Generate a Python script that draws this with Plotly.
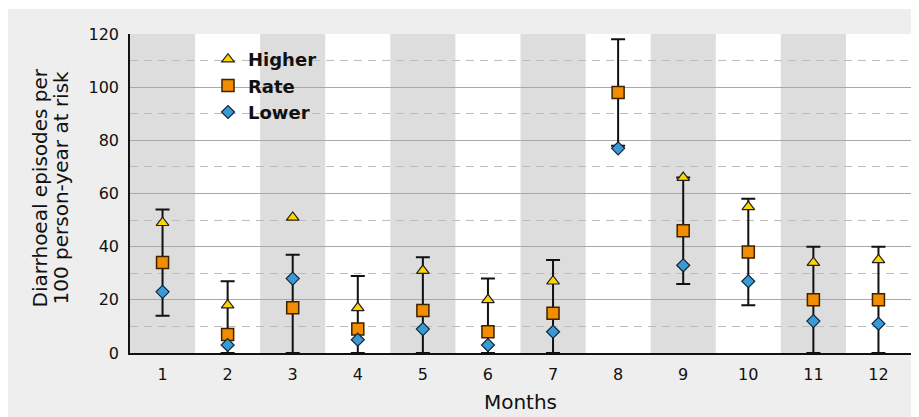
import plotly.graph_objects as go

months = [1, 2, 3, 4, 5, 6, 7, 8, 9, 10, 11, 12]
month_labels = ["1", "2", "3", "4", "5", "6", "7", "8", "9", "10", "11", "12"]
rate = [34, 7, 17, 9, 16, 8, 15, 98, 46, 38, 20, 20]
higher = [49, 18, 51, 17, 31, 20, 27, None, 66, 55, 34, 35]
lower = [23, 3, 28, 5, 9, 3, 8, 77, 33, 27, 12, 11]
ci_upper = [54, 27, 37, 29, 36, 28, 35, 118, 66, 58, 40, 40]
ci_lower = [14, 0, 0, 0, 0, 0, 0, 78, 26, 18, 0, 0]
y_title_lines = ["Diarrhoeal episodes per", "100 person-year at risk"]

err_plus = [u - r for u, r in zip(ci_upper, rate)]
err_minus = [r - l for r, l in zip(rate, ci_lower)]

FONT = "DejaVu Sans, Verdana, sans-serif"

# page pixel geometry (the page body adds an 8px offset)
PL, PR, PT, PB = 130, 911, 34, 353
def px_x(p):
    return (p - PL) / (PR - PL)
def px_y(p):
    return (PB - p) / (PB - PT)

fig = go.Figure()
fig.add_trace(go.Scatter(
    x=months, y=rate, mode="markers", name="Rate", legendrank=2, legendgroup="r",
    marker=dict(symbol="square", size=12, color="#f28c00",
                line=dict(color="#3d2200", width=1.5)),
    error_y=dict(type="data", array=err_plus, arrayminus=err_minus,
                 color="#111111", thickness=2, width=7),
    cliponaxis=False,
))
fig.add_trace(go.Scatter(
    x=months, y=higher, mode="markers", name="Higher", legendrank=1, legendgroup="h",
    marker=dict(symbol="triangle-up", size=11, color="#ffd400",
                line=dict(color="#222222", width=1.2)),
    cliponaxis=False,
))
fig.add_trace(go.Scatter(
    x=months, y=lower, mode="markers", name="Lower", legendrank=3, legendgroup="l",
    marker=dict(symbol="diamond", size=10, color="#3a9ad6",
                line=dict(color="#10283a", width=1.2)),
    cliponaxis=False,
))

shapes = []
# 1px white strip at the top
shapes.append(dict(type="rect", xref="paper", yref="paper", x0=-0.3, x1=1.2,
                   y0=px_y(9), y1=1.3, fillcolor="white", line=dict(width=0), layer="below"))
for m in months:
    if m % 2 == 1:
        shapes.append(dict(type="rect", xref="x", yref="paper", x0=m - 0.5, x1=m + 0.5,
                           y0=0, y1=1, fillcolor="#dddddd", line=dict(width=0), layer="below"))

annotations = [
    dict(text=y_title_lines[0], xref="paper", yref="paper", x=px_x(39), y=px_y(188.5),
         xanchor="center", yanchor="middle", textangle=-90, showarrow=False,
         font=dict(family=FONT, size=20, color="#111111")),
    dict(text=y_title_lines[1], xref="paper", yref="paper", x=px_x(60.5), y=px_y(188),
         xanchor="center", yanchor="middle", textangle=-90, showarrow=False,
         font=dict(family=FONT, size=20, color="#111111")),
]

fig.update_layout(
    width=911, height=409,
    margin=dict(l=PL - 8, r=919 - PR, t=PT - 8, b=417 - PB),
    paper_bgcolor="#eeeeee", plot_bgcolor="white",
    font=dict(family=FONT, size=16, color="#111111"),
    shapes=shapes,
    annotations=annotations,
    showlegend=True,
    legend=dict(x=px_x(208), y=px_y(41), xanchor="left", yanchor="top",
                bgcolor="rgba(0,0,0,0)", borderwidth=0,
                font=dict(family=FONT, size=18, color="#111111", weight="bold"),
                itemwidth=30, tracegroupgap=0),
    xaxis=dict(range=[0.5, 12.5], tickmode="array", tickvals=months, ticktext=month_labels,
               showgrid=False, zeroline=False, showline=True, linecolor="#111111", linewidth=2,
               ticks="", tickfont=dict(size=16), ticklabelstandoff=6, automargin=False,
               title=dict(text="Months", font=dict(size=20), standoff=12)),
    yaxis=dict(range=[0, 120], tickmode="array", tickvals=[0, 20, 40, 60, 80, 100, 120],
               showgrid=True, gridcolor="#a8a8a8", gridwidth=1,
               minor=dict(tickmode="array", tickvals=[10, 30, 50, 70, 90, 110], showgrid=True,
                          gridcolor="#bcbcbc", griddash="8px,6px", gridwidth=1.3),
               zeroline=False, showline=True, linecolor="#111111", linewidth=1.5,
               ticks="", tickfont=dict(size=16), ticklabelstandoff=6, automargin=False),
)

fig.write_html("out.html")
